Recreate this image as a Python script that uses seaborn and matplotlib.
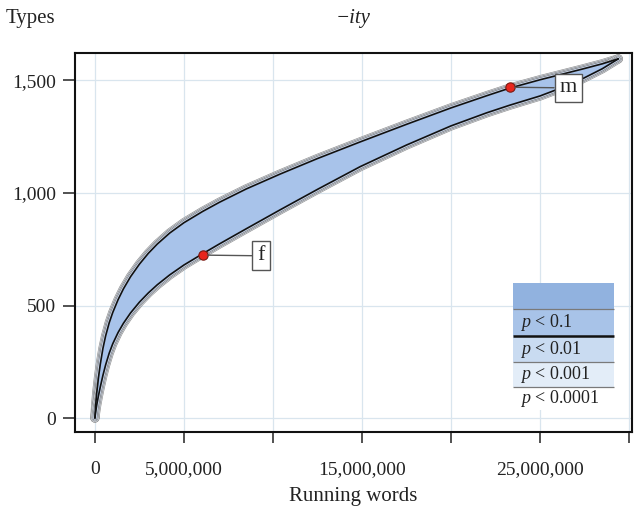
import matplotlib
matplotlib.use("Agg")
import matplotlib.pyplot as plt
import matplotlib.patheffects as pe
from matplotlib.patches import Rectangle
import seaborn as sns

# ---------------- data (running words in millions, number of types) ----------------
running_words_m = [0, 0.02, 0.05, 0.1, 0.2, 0.3, 0.45, 0.6, 0.8, 1.0,
                   1.3, 1.6, 2.0, 2.5, 3.0, 3.5, 4.2, 5.0,
                   6.05, 7.0, 8.5, 10.4, 12.5, 14.9, 17.5, 20.0,
                   22.0, 23.3, 25.0, 26.5, 27.4, 28.5, 29.4]

# upper / lower limits of the p < 0.1 interval (black lines)
upper_types = [0, 30, 66, 111, 181, 239, 310, 365, 423, 469,
               526, 574, 628, 684, 732, 773, 822, 868,
               918, 959, 1018, 1084, 1153, 1227, 1305, 1378,
               1432, 1466, 1503, 1533, 1551, 1574, 1596]
lower_types = [0, 15, 32, 58, 100, 138, 190, 236, 288, 330,
               380, 421, 467, 515, 556, 592, 636, 680,
               730, 774, 841, 925, 1016, 1117, 1213, 1298,
               1356, 1390, 1431, 1476, 1508, 1552, 1596]

point_x = [6.05, 23.3]
point_y = [724, 1470]
point_labels = ["f", "m"]

x_ticks = [0, 5, 10, 15, 20, 25, 30]
x_tick_labels = ["0", "5,000,000", "", "15,000,000", "", "25,000,000", ""]
y_ticks = [0, 500, 1000, 1500]
y_tick_labels = ["0", "500", "1,000", "1,500"]

legend_labels = ["", "$p$ < 0.1", "$p$ < 0.01", "$p$ < 0.001", "$p$ < 0.0001"]
legend_colors = ["#91b2df", "#a8c3e8", "#c9dbf1", "#e3edf8", "#ffffff"]

# ---------------- style ----------------
sns.set_theme(style="white")
plt.rcParams["font.family"] = ["Liberation Serif", "DejaVu Serif"]
plt.rcParams["mathtext.fontset"] = "custom"
plt.rcParams["mathtext.rm"] = "Liberation Serif"
plt.rcParams["mathtext.it"] = "Liberation Serif:italic"

W, H = 634, 514
fig = plt.figure(figsize=(W / 100, H / 100), dpi=100)
ax_l, ax_r, ax_t, ax_b = 75, 632, 53, 432
ax = fig.add_axes([ax_l / W, 1 - ax_b / H, (ax_r - ax_l) / W, (ax_b - ax_t) / H])

ax.set_xlim(-1.12, 30.17)
ax.set_ylim(-62, 1622)

ax.set_axisbelow(True)
ax.grid(True, color="#d9e5ee", lw=0.9)

# halo of thin grey envelope lines (stronger significance levels) around each limit
halo = [
    pe.Stroke(linewidth=6.6, foreground="#8c8c8c"),
    pe.Stroke(linewidth=5.8, foreground="#dfe5ee"),
    pe.Stroke(linewidth=5.0, foreground="#7a7a7a"),
    pe.Stroke(linewidth=4.2, foreground="#d3dcea"),
    pe.Stroke(linewidth=3.4, foreground="#6e6e6e"),
    pe.Stroke(linewidth=2.6, foreground="#c8d4e8"),
]
for arr in [upper_types, lower_types]:
    sns.lineplot(x=running_words_m, y=arr, ax=ax, color="#c8d4e8", lw=1.0,
                 estimator=None, sort=False, zorder=2, path_effects=halo)

# inner band
ax.fill_between(running_words_m, lower_types, upper_types, color="#a8c3ea", lw=0, zorder=3)

# black p<0.1 lines
for arr in [upper_types, lower_types]:
    sns.lineplot(x=running_words_m, y=arr, ax=ax, color="#111111", lw=1.2,
                 estimator=None, sort=False, zorder=4)

# points + labels
sns.scatterplot(x=point_x, y=point_y, ax=ax, color="#e8261d", edgecolor="#7a1a12",
                s=45, linewidth=0.8, zorder=6)
for px, py, lab in zip(point_x, point_y, point_labels):
    ax.annotate(lab, xy=(px, py), xytext=(42, -0.5), textcoords="offset points",
                ha="center", va="center", fontsize=16, color="#222222",
                bbox=dict(boxstyle="square,pad=0.22", fc="white", ec="#555555", lw=1.0),
                arrowprops=dict(arrowstyle="-", color="#555555", lw=1.0,
                                shrinkA=0, shrinkB=3.5),
                zorder=7)

# ticks
ax.set_xticks(x_ticks)
ax.set_xticklabels(x_tick_labels)
ax.set_yticks(y_ticks)
ax.set_yticklabels(y_tick_labels)
ax.tick_params(axis="x", bottom=True, top=False, direction="out", length=8, width=1.1,
               pad=13, labelsize=14, colors="#222222")
ax.tick_params(axis="y", left=True, right=False, direction="out", length=8.5, width=1.1,
               pad=5, labelsize=14, colors="#222222")
for sp in ax.spines.values():
    sp.set_visible(True)
    sp.set_color("#111111")
    sp.set_linewidth(1.5)

# legend table (axes fraction coordinates)
def fx(px):
    return (px - ax_l) / (ax_r - ax_l)

def fy(py):
    return (ax_b - py) / (ax_b - ax_t)

row_edges = [283, 309, 336, 362, 387, 410]
lx0, lx1 = fx(513), fx(614)
for i, (lab, col) in enumerate(zip(legend_labels, legend_colors)):
    top, bot = row_edges[i], row_edges[i + 1]
    ax.add_patch(Rectangle((lx0, fy(bot)), lx1 - lx0, fy(top) - fy(bot),
                           transform=ax.transAxes, fc=col, ec="none", zorder=8))
    if lab:
        ax.text(fx(520), (fy(top) + fy(bot)) / 2, lab, transform=ax.transAxes,
                ha="left", va="center", fontsize=13, color="#222222", zorder=9)
for yy in row_edges[1:5]:
    ax.plot([lx0, lx1], [fy(yy), fy(yy)], transform=ax.transAxes,
            color="#111111" if yy == 336 else "#7a7a7a",
            lw=1.8 if yy == 336 else 0.9, zorder=9, solid_capstyle="butt")

# texts
fig.text(6 / W, 1 - 18 / H, "Types", ha="left", va="center", fontsize=15, color="#222222")
fig.text((ax_l + ax_r) / 2 / W, 1 - 18 / H, "\u2212ity", ha="center", va="center",
         fontsize=15, fontstyle="italic", color="#222222")
fig.text((ax_l + ax_r) / 2 / W, 1 - 497 / H, "Running words", ha="center", va="center",
         fontsize=15, color="#222222")

fig.savefig("out.png", dpi=100, facecolor="white")
